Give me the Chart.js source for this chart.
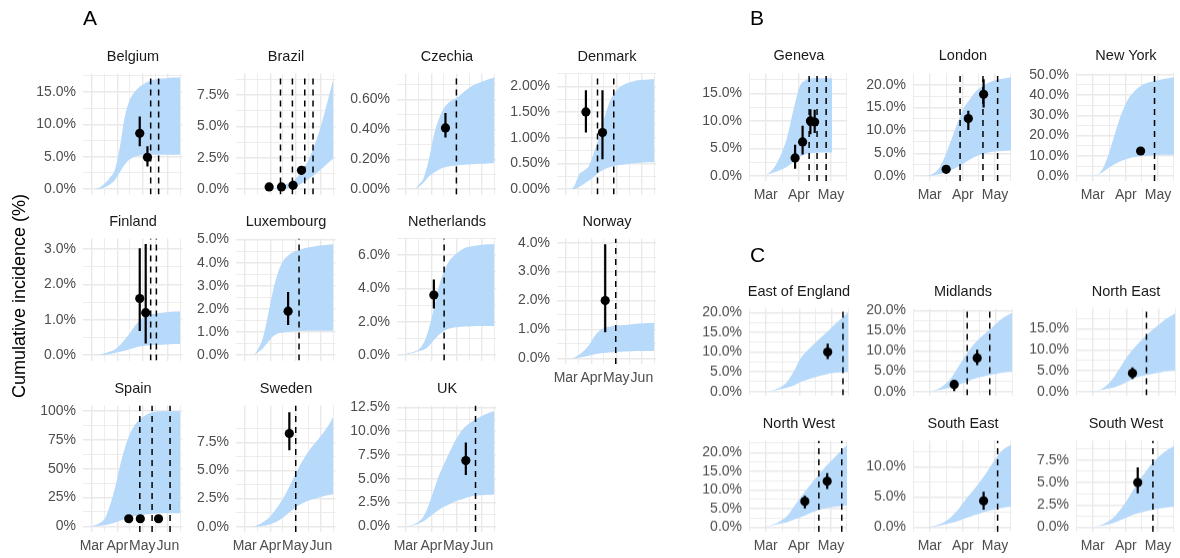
<!DOCTYPE html>
<html>
<head>
<meta charset="utf-8">
<script src="https://cdn.jsdelivr.net/npm/chart.js@4.4.1/dist/chart.umd.min.js"></script>
<style>
  html, body { margin: 0; padding: 0; background: #fff; }
  body { position: relative; width: 1180px; height: 558px; overflow: hidden;
         font-family: "Liberation Sans", Arial, Helvetica, sans-serif; }
  canvas { position: absolute; }
  .strip { position: absolute; font-size: 14.5px; line-height: 16px; color: #1a1a1a;
           text-align: center; white-space: nowrap; }
  .tag { position: absolute; font-size: 21px; line-height: 21px; color: #000; }
  .ytitle { position: absolute; font-size: 18px; line-height: 22px; color: #000;
            text-align: center; white-space: nowrap; transform: rotate(-90deg); }
</style>
</head>
<body>
<script>
// ---------- data (days counted from 1 Jan 2020, values in %) ----------
const panelNames = ['Belgium', 'Brazil', 'Czechia', 'Denmark', 'Finland', 'Luxembourg',
  'Netherlands', 'Norway', 'Spain', 'Sweden', 'UK',
  'Geneva', 'London', 'New York',
  'East of England', 'Midlands', 'North East', 'North West', 'South East', 'South West'];

const ribbonDaysA = [52, 58, 64, 70, 76, 82, 88, 94, 100, 106, 112, 118, 124, 130, 140, 150, 160, 167];
const ribbonDaysB = [56, 62, 68, 74, 80, 86, 92, 98, 104, 110, 116, 122, 128, 136];
const ribbonDaysGeneva = [56, 62, 68, 74, 80, 86, 92, 98, 104, 110, 116, 122];

const ribbonUpper = [
  [0, 0, 0.05, 0.3, 0.9, 1.8, 3.0, 6.5, 11.2, 13.8, 15.0, 15.8, 16.3, 16.7, 17.0, 17.1, 17.2, 17.2],
  [0, 0, 0, 0, 0, 0, 0, 0.05, 0.15, 0.3, 0.45, 0.6, 1.0, 1.5, 2.8, 4.6, 7.0, 8.8],
  [0, 0, 0, 0, 0.03, 0.08, 0.2, 0.36, 0.47, 0.54, 0.58, 0.6, 0.62, 0.65, 0.69, 0.715, 0.735, 0.75],
  [0, 0, 0, 0.05, 0.28, 0.36, 0.45, 0.7, 1.0, 1.35, 1.65, 1.85, 1.96, 2.03, 2.09, 2.12, 2.13, 2.14],
  [0, 0, 0, 0.01, 0.05, 0.1, 0.16, 0.28, 0.44, 0.62, 0.82, 0.98, 1.08, 1.14, 1.18, 1.21, 1.23, 1.24],
  [0, 0, 0, 0, 0.25, 0.75, 1.7, 2.75, 3.55, 4.05, 4.3, 4.45, 4.53, 4.6, 4.68, 4.74, 4.78, 4.8],
  [0, 0.03, 0.12, 0.2, 0.35, 0.75, 1.6, 2.8, 4.1, 5.0, 5.6, 5.95, 6.2, 6.4, 6.53, 6.6, 6.65, 6.67],
  [0, 0, 0, 0.02, 0.12, 0.26, 0.45, 0.73, 0.93, 1.04, 1.09, 1.12, 1.14, 1.15, 1.18, 1.2, 1.22, 1.23],
  [0, 0.1, 0.8, 3, 7, 18, 33, 52, 68, 80, 88, 93, 96, 98.5, 99.8, 100, 100, 100],
  [0, 0, 0, 0.02, 0.15, 0.4, 0.7, 1.2, 1.8, 2.5, 3.3, 4.2, 5.1, 5.9, 7.0, 7.9, 8.9, 9.8],
  [0, 0, 0.05, 0.2, 0.5, 1.1, 2.3, 3.8, 5.3, 6.5, 7.6, 8.7, 9.6, 10.3, 11.0, 11.5, 11.9, 12.1],
  [0, 0.4, 1.6, 3.8, 7.0, 12.0, 16.3, 17.4, 17.7, 17.7, 17.7, 17.7],
  [0, 0.4, 1.5, 4.2, 7.8, 11.6, 14.9, 17.0, 18.7, 19.8, 20.5, 21.0, 21.3, 21.6],
  [0, 0.3, 2.5, 9.5, 19.5, 29.5, 37.0, 41.3, 44.2, 45.8, 46.7, 47.5, 48.1, 48.8],
  [0, 0.05, 0.4, 1.2, 2.6, 5.2, 8.4, 10.3, 11.9, 13.5, 15.0, 16.6, 18.1, 20.0],
  [0, 0.15, 0.7, 1.8, 3.5, 6.0, 8.6, 10.8, 12.7, 14.1, 15.5, 17.0, 18.3, 19.5],
  [0, 0.1, 0.6, 1.8, 3.7, 6.1, 8.5, 10.4, 12.1, 13.6, 15.0, 16.3, 17.5, 18.7],
  [0, 0.25, 0.75, 1.7, 3.0, 5.3, 7.8, 10.0, 12.1, 14.2, 16.2, 18.0, 19.7, 22.0],
  [0, 0.1, 0.4, 0.9, 1.7, 2.8, 4.2, 5.5, 6.8, 8.2, 9.8, 11.4, 12.7, 13.6],
  [0, 0.05, 0.25, 0.6, 1.15, 2.0, 3.0, 4.2, 5.3, 6.3, 7.2, 7.9, 8.5, 9.1]
];

const ribbonLower = [
  [0, 0, 0, 0.05, 0.3, 0.7, 1.4, 2.6, 3.8, 4.6, 5.0, 5.2, 5.3, 5.3, 5.3, 5.3, 5.3, 5.3],
  [0, 0, 0, 0, 0, 0, 0, 0, 0, 0.02, 0.06, 0.12, 0.28, 0.48, 0.95, 1.45, 2.05, 2.45],
  [0, 0, 0, 0, 0.015, 0.045, 0.085, 0.11, 0.13, 0.145, 0.152, 0.157, 0.16, 0.163, 0.167, 0.17, 0.172, 0.174],
  [0, 0, 0, 0, 0.04, 0.1, 0.16, 0.24, 0.32, 0.38, 0.42, 0.45, 0.47, 0.48, 0.5, 0.51, 0.52, 0.52],
  [0, 0, 0, 0, 0.01, 0.03, 0.06, 0.09, 0.12, 0.17, 0.21, 0.24, 0.26, 0.28, 0.29, 0.3, 0.31, 0.31],
  [0, 0, 0, 0, 0.12, 0.3, 0.55, 0.8, 0.93, 0.98, 1.0, 1.02, 1.03, 1.04, 1.05, 1.05, 1.05, 1.05],
  [0, 0.02, 0.08, 0.14, 0.24, 0.32, 0.55, 0.9, 1.2, 1.45, 1.58, 1.65, 1.69, 1.71, 1.73, 1.74, 1.75, 1.75],
  [0, 0, 0, 0, 0.02, 0.05, 0.09, 0.13, 0.16, 0.18, 0.2, 0.21, 0.22, 0.23, 0.24, 0.25, 0.25, 0.25],
  [0, 0, 0.1, 0.4, 1, 2, 3.3, 4.8, 6.4, 7.7, 8.8, 9.6, 10.2, 10.6, 11, 11.2, 11.3, 11.3],
  [0, 0, 0, 0, 0.03, 0.08, 0.15, 0.3, 0.5, 0.8, 1.15, 1.5, 1.85, 2.1, 2.4, 2.6, 2.8, 2.9],
  [0, 0, 0.02, 0.1, 0.3, 0.55, 0.95, 1.35, 1.7, 2.05, 2.3, 2.55, 2.75, 2.9, 3.15, 3.25, 3.32, 3.35],
  [0, 0.3, 0.7, 1.1, 1.7, 2.6, 3.5, 4.0, 4.2, 4.3, 4.3, 4.3],
  [0, 0.15, 0.4, 0.75, 1.3, 2.0, 2.8, 3.7, 4.4, 4.9, 5.25, 5.4, 5.5, 5.6],
  [0, 0.2, 1.5, 3.8, 5.8, 7.4, 8.5, 9.3, 9.8, 10.1, 10.3, 10.4, 10.5, 10.5],
  [0, 0.05, 0.25, 0.6, 1.0, 1.6, 2.4, 3.0, 3.5, 4.0, 4.4, 4.7, 4.85, 4.95],
  [0, 0.1, 0.35, 0.7, 1.05, 1.6, 2.2, 2.9, 3.4, 3.8, 4.1, 4.4, 4.7, 5.0],
  [0, 0.05, 0.4, 0.75, 1.05, 1.6, 2.4, 3.2, 3.7, 4.0, 4.3, 4.6, 4.85, 5.1],
  [0, 0.2, 0.6, 1.0, 1.3, 2.0, 2.6, 3.3, 4.0, 4.7, 5.1, 5.4, 5.6, 5.8],
  [0, 0.05, 0.2, 0.45, 0.7, 1.0, 1.4, 1.75, 2.1, 2.45, 2.75, 3.0, 3.2, 3.4],
  [0, 0.05, 0.15, 0.3, 0.5, 0.8, 1.1, 1.4, 1.6, 1.8, 1.95, 2.1, 2.2, 2.3]
];

// serosurvey estimates with 95% intervals
const surveyDays = [
  [118, 127.3], [89.5, 104.4, 118.4, 128.5], [108], [84.4, 104.4], [118, 125.2], [112.4],
  [94], [107.7], [104.7, 118.7, 140.7], [113.9], [132.6],
  [87.5, 94.5, 101.8, 105.8], [75.4, 96.1, 110.4], [104.8],
  [117], [82.4, 103.6], [96.5], [96.6, 117.5], [110.4], [102.1]
];
const surveyEstimate = [
  [8.6, 4.9], [0.17, 0.17, 0.3, 1.5], [0.41], [1.5, 1.1], [1.6, 1.2], [1.9],
  [3.6], [2.0], [6.5, 6.5, 6.5], [8.3], [6.9],
  [3.3, 6.2, 10.0, 9.8], [1.5, 12.6, 17.9], [12.4],
  [10.0], [1.75, 8.3], [4.4], [6.9, 12.3], [4.35], [5.0]
];
const surveyLow = [
  [6.6, 3.5], [0.1, 0.1, 0.1, 1.15], [0.345], [1.1, 0.58], [0.68, 0.33], [1.3],
  [2.8], [0.9], [5.8, 5.8, 5.8], [6.8], [5.4],
  [1.35, 3.9, 7.6, 7.8], [1.1, 10.1, 15.0], [11.5],
  [8.2], [0.1, 6.5], [3.0], [5.0, 10.2], [2.9], [3.8]
];
const surveyHigh = [
  [11.2, 6.6], [0.25, 0.25, 0.5, 1.8], [0.51], [1.92, 1.92], [3.02, 3.14], [2.73],
  [4.53], [3.95], [7.2, 7.2, 7.2], [10.2], [8.8],
  [5.7, 9.1, 12.1, 12.0], [1.9, 14.3, 21.2], [13.3],
  [12.1], [2.5, 10.3], [5.8], [8.4, 14.5], [5.85], [6.7]
];

// dates marked with dashed vertical lines
const markerDays = [
  [131.2, 140.8], [103.2, 117.6, 132.5, 142.5], [121.2], [98.4, 118], [131.2, 138.1], [125.6],
  [106.4], [120.4], [118.1, 132.9, 154.6], [121.6], [144.3],
  [100.6, 108.0, 116.5], [88.4, 109.8, 123.5], [117.8],
  [131.1], [94.4, 115.2], [109.4], [109.7, 131.1], [123.5], [116.3]
];

// y axes: limits, labelled ticks, decimals in the labels
const yLimits = [
  [-0.85, 17.85], [-0.44, 9.24], [-0.037, 0.775], [-0.107, 2.25], [-0.157, 3.3], [-0.24, 5.05],
  [-0.33, 7.0], [-0.2, 4.15], [-5, 105], [-0.47, 10.8], [-0.6, 12.7],
  [-0.88, 18.6], [-1.06, 22.46], [-2.4, 50.7],
  [-1.0, 21.0], [-0.97, 20.5], [-0.93, 19.85], [-1.24, 23.2], [-0.76, 14.3], [-0.52, 9.7]
];
const yTickValues = [
  [0, 5, 10, 15], [0, 2.5, 5, 7.5], [0, 0.2, 0.4, 0.6], [0, 0.5, 1, 1.5, 2], [0, 1, 2, 3],
  [0, 1, 2, 3, 4, 5], [0, 2, 4, 6], [0, 1, 2, 3, 4], [0, 25, 50, 75, 100], [0, 2.5, 5, 7.5],
  [0, 2.5, 5, 7.5, 10, 12.5],
  [0, 5, 10, 15], [0, 5, 10, 15, 20], [0, 10, 20, 30, 40, 50],
  [0, 5, 10, 15, 20], [0, 5, 10, 15, 20], [0, 5, 10, 15], [0, 5, 10, 15, 20], [0, 5, 10], [0, 2.5, 5, 7.5]
];
const yTickDecimals = [1, 1, 2, 2, 1, 1, 1, 1, 0, 1, 1, 1, 1, 1, 1, 1, 1, 1, 1, 1];

// x axes: month starts
const monthDaysA = [60, 91, 121, 152];
const monthNamesA = ['Mar', 'Apr', 'May', 'Jun'];
const monthDaysBC = [60, 91, 121];
const monthNamesBC = ['Mar', 'Apr', 'May'];
const xLimitsA = [49.5, 169.5];
const xLimitsBC = [44.4, 136.1];

// ---------- layout ----------
const PAD_L = 72, PAD_T = 12, PAD_R = 4;
const RIBBON = '#B7D9FA';
const GRID = '#e9e9e9';
const TICK_TEXT = '#4d4d4d';
Chart.defaults.font.family = '"Liberation Sans", Arial, Helvetica, sans-serif';

const colA = [83, 236, 397, 557];
const rowsA = [{ top: 70, bottom: 198, strip: 55.5 }, { top: 235, bottom: 364, strip: 221 },
               { top: 402, bottom: 532, strip: 388 }];
const colBC = [749, 913, 1076];
const rowB = { top: 70, bottom: 181, strip: 55 };
const rowsC = [{ top: 305, bottom: 398.5, strip: 290.5 }, { top: 437, bottom: 531.5, strip: 422.5 }];
const PANEL_W = 100;

function panelFrame(i) {
  if (i < 11) {
    const r = rowsA[Math.floor(i / 4)];
    return { left: colA[i % 4], top: r.top, bottom: r.bottom, strip: r.strip,
             showX: [7, 8, 9, 10].includes(i), section: 'A' };
  }
  if (i < 14) {
    return { left: colBC[i - 11], top: rowB.top, bottom: rowB.bottom, strip: rowB.strip,
             showX: true, section: 'B' };
  }
  const k = i - 14, r = rowsC[Math.floor(k / 3)];
  return { left: colBC[k % 3], top: r.top, bottom: r.bottom, strip: r.strip,
           showX: k >= 3, section: 'C' };
}

// major ticks plus half-way minor grid lines
function gridTicks(majors, lo, hi) {
  const all = majors.map(v => ({ value: v, major: true }));
  for (let k = 0; k < majors.length - 1; k++) {
    all.push({ value: (majors[k] + majors[k + 1]) / 2, major: false });
  }
  if (majors.length > 1) {
    const n = majors.length;
    all.push({ value: majors[0] - (majors[1] - majors[0]) / 2, major: false });
    all.push({ value: majors[n - 1] + (majors[n - 1] - majors[n - 2]) / 2, major: false });
  }
  return all.filter(t => t.value >= lo && t.value <= hi).sort((a, b) => a.value - b.value);
}

function addDiv(cls, text, css) {
  const d = document.createElement('div');
  d.className = cls;
  d.textContent = text;
  Object.assign(d.style, css);
  document.body.appendChild(d);
  return d;
}

function drawPanel(i) {
  const f = panelFrame(i);
  const panelH = f.bottom - f.top;
  const padB = f.showX ? 26 : 12;
  const isA = f.section === 'A';
  const xLim = isA ? xLimitsA : xLimitsBC;
  const months = isA ? monthDaysA : monthDaysBC;
  const monthNames = isA ? monthNamesA : monthNamesBC;
  const xTicks = gridTicks(months, xLim[0], xLim[1]);
  const yLim = yLimits[i];
  const yTicks = gridTicks(yTickValues[i], yLim[0], yLim[1]);
  const dec = yTickDecimals[i];
  const days = isA ? ribbonDaysA : (i === 11 ? ribbonDaysGeneva : ribbonDaysB);

  const upper = days.map((d, k) => ({ x: d, y: ribbonUpper[i][k] }));
  const lower = days.map((d, k) => ({ x: d, y: ribbonLower[i][k] }));
  const points = surveyDays[i].map((d, k) => ({ x: d, y: surveyEstimate[i][k] }));
  const ranges = [];
  surveyDays[i].forEach((d, k) => {
    ranges.push({ x: d, y: surveyLow[i][k] }, { x: d, y: surveyHigh[i][k] }, { x: d, y: null });
  });
  const markers = [];
  markerDays[i].forEach(d => {
    markers.push({ x: d, y: yLim[0] }, { x: d, y: yLim[1] }, { x: d, y: null });
  });

  const canvas = document.createElement('canvas');
  const W = PANEL_W + PAD_L + PAD_R;
  const H = panelH + PAD_T + padB;
  canvas.width = W;
  canvas.height = H;
  canvas.style.left = (f.left - PAD_L) + 'px';
  canvas.style.top = (f.top - PAD_T) + 'px';
  canvas.style.width = W + 'px';
  canvas.style.height = H + 'px';
  document.body.appendChild(canvas);

  const gridWidth = ctx => (ctx.tick && ctx.tick.major ? 1.4 : 0.8);

  new Chart(canvas, {
    type: 'line',
    data: {
      datasets: [
        { data: points, showLine: false, pointRadius: 4.6, pointBackgroundColor: '#000',
          pointBorderWidth: 0, borderColor: 'rgba(0,0,0,0)' },
        { data: ranges, borderColor: '#000', borderWidth: 2.2, pointRadius: 0, spanGaps: false,
          borderCapStyle: 'butt' },
        { data: markers, borderColor: '#000', borderWidth: 1.5, borderDash: [6, 5], pointRadius: 0,
          spanGaps: false, borderCapStyle: 'butt' },
        { data: upper, borderColor: 'rgba(0,0,0,0)', borderWidth: 0.01, pointRadius: 0,
          fill: '+1', backgroundColor: RIBBON, cubicInterpolationMode: 'monotone' },
        { data: lower, borderColor: 'rgba(0,0,0,0)', borderWidth: 0.01, pointRadius: 0,
          fill: false, cubicInterpolationMode: 'monotone' }
      ]
    },
    options: {
      responsive: false,
      animation: false,
      events: [],
      devicePixelRatio: 1,
      layout: { padding: { top: PAD_T, right: PAD_R, left: 0, bottom: 0 } },
      plugins: { legend: { display: false }, tooltip: { enabled: false } },
      scales: {
        x: {
          type: 'linear', min: xLim[0], max: xLim[1],
          afterBuildTicks: s => { s.ticks = xTicks.map(t => ({ value: t.value, major: t.major })); },
          afterFit: s => { s.height = padB; },
          ticks: {
            display: f.showX, autoSkip: false, maxRotation: 0, minRotation: 0, padding: 6,
            color: TICK_TEXT, font: { size: 14 },
            callback: (v, idx, arr) => (arr[idx].major ? monthNames[months.indexOf(v)] : '')
          },
          grid: { color: GRID, lineWidth: gridWidth, drawTicks: false },
          border: { display: false }
        },
        y: {
          type: 'linear', min: yLim[0], max: yLim[1],
          afterBuildTicks: s => { s.ticks = yTicks.map(t => ({ value: t.value, major: t.major })); },
          afterFit: s => { s.width = PAD_L; },
          ticks: {
            autoSkip: false, padding: 7, color: TICK_TEXT, font: { size: 14 },
            callback: (v, idx, arr) => (arr[idx].major ? v.toFixed(dec) + '%' : '')
          },
          grid: { color: GRID, lineWidth: gridWidth, drawTicks: false },
          border: { display: false }
        }
      }
    }
  });

  const stripW = 160;
  addDiv('strip', panelNames[i], {
    left: (f.left + PANEL_W / 2 - stripW / 2) + 'px',
    top: (f.strip - 8) + 'px',
    width: stripW + 'px'
  });
}

for (let i = 0; i < panelNames.length; i++) drawPanel(i);

// section letters and the shared axis title
addDiv('tag', 'A', { left: '83px', top: '7px' });
addDiv('tag', 'B', { left: '750px', top: '7px' });
addDiv('tag', 'C', { left: '750px', top: '244px' });
addDiv('ytitle', 'Cumulative incidence (%)', {
  left: (19 - 140) + 'px', top: (296 - 11) + 'px', width: '280px', height: '22px'
});
</script>
</body>
</html>
